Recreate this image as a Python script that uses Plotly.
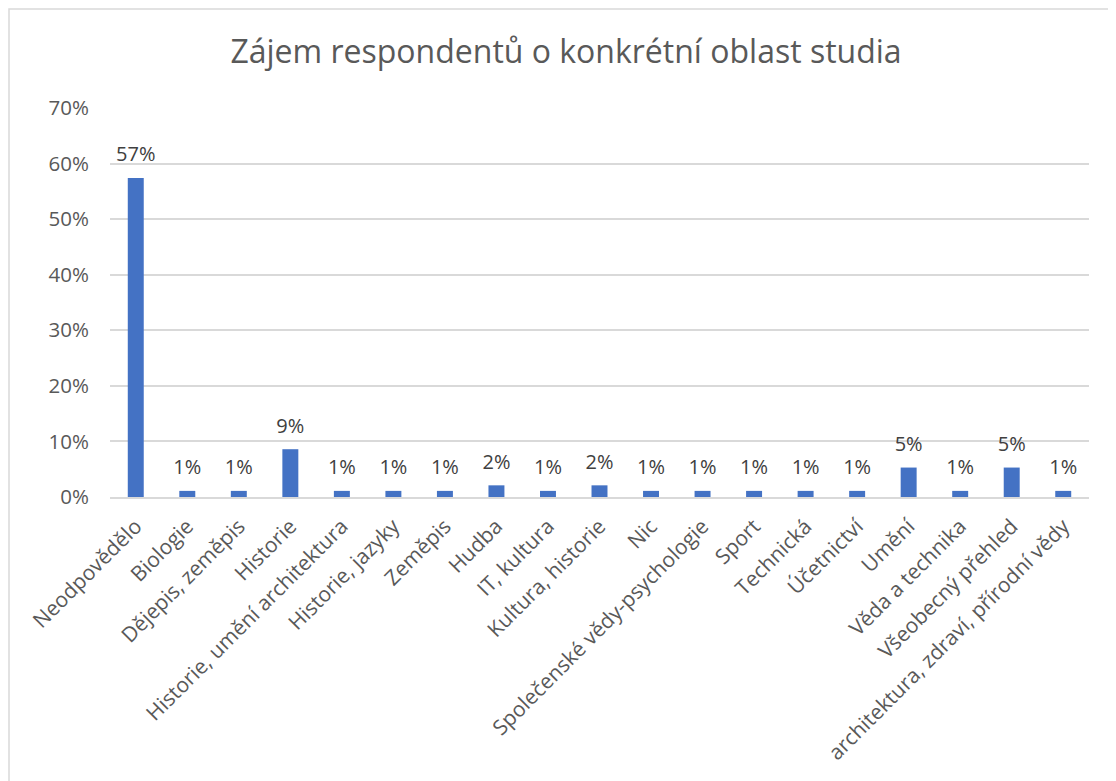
import plotly.graph_objects as go

categories = [
    "Neodpovědělo", "Biologie", "Dějepis, zeměpis", "Historie",
    "Historie, umění architektura", "Historie, jazyky", "Zeměpis", "Hudba",
    "IT, kultura", "Kultura, historie", "Nic", "Společenské vědy-psychologie",
    "Sport", "Technická", "Účetnictví", "Umění", "Věda a technika",
    "Všeobecný přehled", "architektura, zdraví, přírodní vědy",
]
values = [0.574, 0.011, 0.011, 0.086, 0.011, 0.011, 0.011, 0.021, 0.011, 0.021,
          0.011, 0.011, 0.011, 0.011, 0.011, 0.053, 0.011, 0.053, 0.011]
title_text = "Zájem respondentů o konkrétní oblast studia"

FONT = "Open Sans"
GRAY = "#595959"
CLEAR = "rgba(0,0,0,0)"

fig = go.Figure()
fig.add_trace(go.Bar(
    x=categories, y=values,
    marker=dict(color="#4472C4", line=dict(width=0)),
    hoverinfo="x+y",
))
# data labels, lifted above the bar tops by an invisible marker
fig.add_trace(go.Scatter(
    x=categories, y=values, mode="markers+text",
    marker=dict(size=17, opacity=0),
    texttemplate="%{y:.0%}", textposition="top center",
    textfont=dict(family=FONT, size=20, color="#404040"),
    cliponaxis=False, hoverinfo="skip",
))

# page has an 8px body margin; figure coordinates are offset by it
W, H = 1116, 781
L, R, T, B = 102, 35, 100, 292
pw, ph = W - L - R, H - T - B

fig.update_layout(
    width=W, height=H,
    margin=dict(l=L, r=R, t=T, b=B),
    paper_bgcolor="white", plot_bgcolor="white",
    bargap=0.69,
    showlegend=False,
    title=dict(text=title_text, x=0.5, xanchor="center", y=1 - 44 / H, yanchor="middle",
               font=dict(family=FONT, size=32, color=GRAY)),
    xaxis=dict(tickangle=-45, tickfont=dict(family=FONT, size=21, color=GRAY),
               range=[-0.5, len(categories) - 0.5],
               showline=True, linecolor="#D9D9D9", linewidth=1.5,
               ticks="outside", ticklen=7, tickcolor=CLEAR,
               showgrid=False),
    yaxis=dict(range=[0, 0.7], dtick=0.1, tickformat=".0%",
               tickfont=dict(family=FONT, size=20.5, color=GRAY),
               showgrid=True, gridcolor="#D9D9D9", gridwidth=1.5,
               zeroline=False, showline=False, ticks="outside", ticklen=16,
               tickcolor=CLEAR),
    shapes=[dict(type="rect", xref="paper", yref="paper",
                 x0=(1 - L) / pw, x1=(W + 40 - L) / pw,
                 y0=(H - B - H - 40) / ph, y1=(H - B - 1) / ph,
                 line=dict(color="#D9D9D9", width=1.5), fillcolor=CLEAR)],
)

fig.write_html("out.html")
